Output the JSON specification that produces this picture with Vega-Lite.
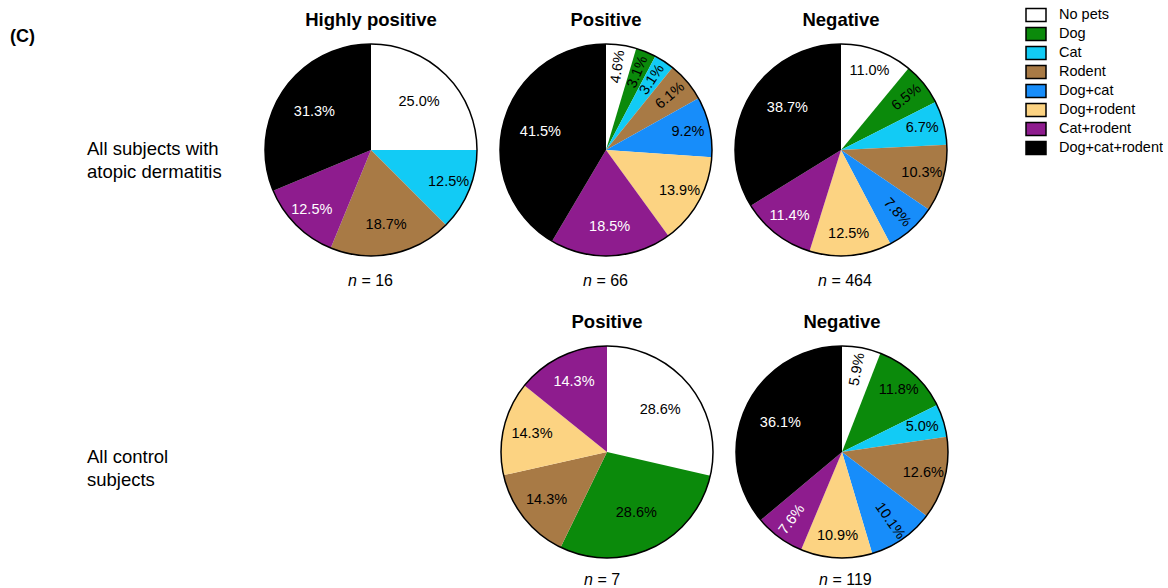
{
  "$schema": "https://vega.github.io/schema/vega-lite/v6.json",
  "padding": {"left": 0, "top": 6, "right": 0, "bottom": 0},
  "datasets": {
    "shares": [
      {"cohort": "AD", "result": "Highly positive", "pet": "No pets", "pct": 25.0},
      {"cohort": "AD", "result": "Highly positive", "pet": "Cat", "pct": 12.5},
      {"cohort": "AD", "result": "Highly positive", "pet": "Rodent", "pct": 18.7},
      {"cohort": "AD", "result": "Highly positive", "pet": "Cat+rodent", "pct": 12.5},
      {"cohort": "AD", "result": "Highly positive", "pet": "Dog+cat+rodent", "pct": 31.3},
      {"cohort": "AD", "result": "Positive", "pet": "No pets", "pct": 4.6},
      {"cohort": "AD", "result": "Positive", "pet": "Dog", "pct": 3.1},
      {"cohort": "AD", "result": "Positive", "pet": "Cat", "pct": 3.1},
      {"cohort": "AD", "result": "Positive", "pet": "Rodent", "pct": 6.1},
      {"cohort": "AD", "result": "Positive", "pet": "Dog+cat", "pct": 9.2},
      {"cohort": "AD", "result": "Positive", "pet": "Dog+rodent", "pct": 13.9},
      {"cohort": "AD", "result": "Positive", "pet": "Cat+rodent", "pct": 18.5},
      {"cohort": "AD", "result": "Positive", "pet": "Dog+cat+rodent", "pct": 41.5},
      {"cohort": "AD", "result": "Negative", "pet": "No pets", "pct": 11.0},
      {"cohort": "AD", "result": "Negative", "pet": "Dog", "pct": 6.5},
      {"cohort": "AD", "result": "Negative", "pet": "Cat", "pct": 6.7},
      {"cohort": "AD", "result": "Negative", "pet": "Rodent", "pct": 10.3},
      {"cohort": "AD", "result": "Negative", "pet": "Dog+cat", "pct": 7.8},
      {"cohort": "AD", "result": "Negative", "pet": "Dog+rodent", "pct": 12.5},
      {"cohort": "AD", "result": "Negative", "pet": "Cat+rodent", "pct": 11.4},
      {"cohort": "AD", "result": "Negative", "pet": "Dog+cat+rodent", "pct": 38.7},
      {"cohort": "Control", "result": "Positive", "pet": "No pets", "pct": 28.6},
      {"cohort": "Control", "result": "Positive", "pet": "Dog", "pct": 28.6},
      {"cohort": "Control", "result": "Positive", "pet": "Rodent", "pct": 14.3},
      {"cohort": "Control", "result": "Positive", "pet": "Dog+rodent", "pct": 14.3},
      {"cohort": "Control", "result": "Positive", "pet": "Cat+rodent", "pct": 14.3},
      {"cohort": "Control", "result": "Negative", "pet": "No pets", "pct": 5.9},
      {"cohort": "Control", "result": "Negative", "pet": "Dog", "pct": 11.8},
      {"cohort": "Control", "result": "Negative", "pet": "Cat", "pct": 5.0},
      {"cohort": "Control", "result": "Negative", "pet": "Rodent", "pct": 12.6},
      {"cohort": "Control", "result": "Negative", "pet": "Dog+cat", "pct": 10.1},
      {"cohort": "Control", "result": "Negative", "pet": "Dog+rodent", "pct": 10.9},
      {"cohort": "Control", "result": "Negative", "pet": "Cat+rodent", "pct": 7.6},
      {"cohort": "Control", "result": "Negative", "pet": "Dog+cat+rodent", "pct": 36.1}
    ],
    "counts": [
      {"cohort": "AD", "result": "Highly positive", "n": 16},
      {"cohort": "AD", "result": "Positive", "n": 66},
      {"cohort": "AD", "result": "Negative", "n": 464},
      {"cohort": "Control", "result": "Positive", "n": 7},
      {"cohort": "Control", "result": "Negative", "n": 119}
    ]
  },
  "spacing": 13,
  "vconcat": [
    {
      "spacing": 17,
      "hconcat": [
        {
          "width": 245, "height": 254,
          "data": {"values": [{}]},
          "layer": [
            {"mark": {"type": "text", "text": "(C)", "fontWeight": "bold", "fontSize": 18, "align": "left", "dx": -112.5, "dy": -133}, "encoding": {}},
            {"mark": {"type": "text", "text": ["All subjects with", "atopic dermatitis"], "fontSize": 18.5, "lineHeight": 23, "align": "left", "dx": -35.5, "dy": -21}, "encoding": {}}
          ]
        },
        {
          "spacing": 4,
          "vconcat": [
            {
              "width": 214, "height": 214,
              "title": "Highly positive",
              "data": {"name": "shares"},
              "transform": [
                {"filter": "datum.cohort === 'AD' && datum.result === 'Highly positive'"},
                {"calculate": "indexof(['No pets','Dog','Cat','Rodent','Dog+cat','Dog+rodent','Cat+rodent','Dog+cat+rodent'], datum.pet)", "as": "ord"},
                {"window": [{"op": "sum", "field": "pct", "as": "cum"}], "sort": [{"field": "ord", "order": "ascending"}]},
                {"calculate": "(datum.cum - datum.pct / 2) * 3.6 - 90", "as": "radial"},
                {"calculate": "datum.radial > 90 ? datum.radial - 180 : datum.radial", "as": "upright"},
                {"calculate": "datum.pct < 10.2 && abs(datum.upright) > 20 ? datum.upright : 0", "as": "tilt"},
                {"calculate": "format(datum.pct, '.1f') + '%'", "as": "label"}
              ],
              "layer": [
                {
                  "mark": {"type": "arc", "outerRadius": 106},
                  "encoding": {
                    "theta": {"field": "pct", "type": "quantitative", "stack": true, "scale": {"domain": [0, 100], "clamp": true}},
                    "order": {"field": "ord", "type": "quantitative"},
                    "color": {"field": "pet", "type": "nominal", "title": null, "scale": {"domain": ["No pets", "Dog", "Cat", "Rodent", "Dog+cat", "Dog+rodent", "Cat+rodent", "Dog+cat+rodent"], "range": ["#ffffff", "#0b8a0b", "#12cbf5", "#a87a45", "#178dfa", "#fcd382", "#8e1c8e", "#000000"]}}
                  }
                },
                {
                  "transform": [{"aggregate": [{"op": "sum", "field": "pct", "as": "whole"}]}],
                  "mark": {"type": "arc", "outerRadius": 106, "filled": false, "stroke": "black", "strokeWidth": 1.5},
                  "encoding": {"theta": {"field": "whole", "type": "quantitative", "scale": {"domain": [0, 100], "clamp": true}}}
                },
                {
                  "mark": {"type": "text", "fontSize": 14.5, "radius": {"expr": "datum.pct < 13.95 ? 84 : datum.pct < 20 ? 77 : 68"}},
                  "encoding": {
                    "theta": {"field": "pct", "type": "quantitative", "stack": true, "scale": {"domain": [0, 100], "clamp": true}},
                    "order": {"field": "ord", "type": "quantitative"},
                    "text": {"field": "label", "type": "nominal"},
                    "angle": {"field": "tilt", "type": "quantitative", "scale": null},
                    "color": {"condition": {"test": "datum.pet === 'Cat+rodent' || datum.pet === 'Dog+cat+rodent'", "value": "white"}, "value": "black"}
                  }
                }
              ]
            },
            {
              "width": 214, "height": 36,
              "data": {"name": "counts"},
              "transform": [
                {"filter": "datum.cohort === 'AD' && datum.result === 'Highly positive'"},
                {"calculate": "'= ' + datum.n", "as": "rest"}
              ],
              "layer": [
                {"mark": {"type": "text", "text": "n", "fontStyle": "italic", "fontSize": 16, "align": "left", "dx": -23}, "encoding": {}},
                {"mark": {"type": "text", "fontSize": 16, "align": "left", "dx": -9.6}, "encoding": {"text": {"field": "rest", "type": "nominal"}}}
              ]
            }
          ]
        },
        {
          "spacing": 4,
          "vconcat": [
            {
              "width": 214, "height": 214,
              "title": "Positive",
              "data": {"name": "shares"},
              "transform": [
                {"filter": "datum.cohort === 'AD' && datum.result === 'Positive'"},
                {"calculate": "indexof(['No pets','Dog','Cat','Rodent','Dog+cat','Dog+rodent','Cat+rodent','Dog+cat+rodent'], datum.pet)", "as": "ord"},
                {"window": [{"op": "sum", "field": "pct", "as": "cum"}], "sort": [{"field": "ord", "order": "ascending"}]},
                {"calculate": "(datum.cum - datum.pct / 2) * 3.6 - 90", "as": "radial"},
                {"calculate": "datum.radial > 90 ? datum.radial - 180 : datum.radial", "as": "upright"},
                {"calculate": "datum.pct < 10.2 && abs(datum.upright) > 20 ? datum.upright : 0", "as": "tilt"},
                {"calculate": "format(datum.pct, '.1f') + '%'", "as": "label"}
              ],
              "layer": [
                {
                  "mark": {"type": "arc", "outerRadius": 106},
                  "encoding": {
                    "theta": {"field": "pct", "type": "quantitative", "stack": true, "scale": {"domain": [0, 100], "clamp": true}},
                    "order": {"field": "ord", "type": "quantitative"},
                    "color": {"field": "pet", "type": "nominal", "title": null, "scale": {"domain": ["No pets", "Dog", "Cat", "Rodent", "Dog+cat", "Dog+rodent", "Cat+rodent", "Dog+cat+rodent"], "range": ["#ffffff", "#0b8a0b", "#12cbf5", "#a87a45", "#178dfa", "#fcd382", "#8e1c8e", "#000000"]}}
                  }
                },
                {
                  "transform": [{"aggregate": [{"op": "sum", "field": "pct", "as": "whole"}]}],
                  "mark": {"type": "arc", "outerRadius": 106, "filled": false, "stroke": "black", "strokeWidth": 1.5},
                  "encoding": {"theta": {"field": "whole", "type": "quantitative", "scale": {"domain": [0, 100], "clamp": true}}}
                },
                {
                  "mark": {"type": "text", "fontSize": 14.5, "radius": {"expr": "datum.pct < 13.95 ? 84 : datum.pct < 20 ? 77 : 68"}},
                  "encoding": {
                    "theta": {"field": "pct", "type": "quantitative", "stack": true, "scale": {"domain": [0, 100], "clamp": true}},
                    "order": {"field": "ord", "type": "quantitative"},
                    "text": {"field": "label", "type": "nominal"},
                    "angle": {"field": "tilt", "type": "quantitative", "scale": null},
                    "color": {"condition": {"test": "datum.pet === 'Cat+rodent' || datum.pet === 'Dog+cat+rodent'", "value": "white"}, "value": "black"}
                  }
                }
              ]
            },
            {
              "width": 214, "height": 36,
              "data": {"name": "counts"},
              "transform": [
                {"filter": "datum.cohort === 'AD' && datum.result === 'Positive'"},
                {"calculate": "'= ' + datum.n", "as": "rest"}
              ],
              "layer": [
                {"mark": {"type": "text", "text": "n", "fontStyle": "italic", "fontSize": 16, "align": "left", "dx": -23}, "encoding": {}},
                {"mark": {"type": "text", "fontSize": 16, "align": "left", "dx": -9.6}, "encoding": {"text": {"field": "rest", "type": "nominal"}}}
              ]
            }
          ]
        },
        {
          "spacing": 4,
          "vconcat": [
            {
              "width": 214, "height": 214,
              "title": "Negative",
              "data": {"name": "shares"},
              "transform": [
                {"filter": "datum.cohort === 'AD' && datum.result === 'Negative'"},
                {"calculate": "indexof(['No pets','Dog','Cat','Rodent','Dog+cat','Dog+rodent','Cat+rodent','Dog+cat+rodent'], datum.pet)", "as": "ord"},
                {"window": [{"op": "sum", "field": "pct", "as": "cum"}], "sort": [{"field": "ord", "order": "ascending"}]},
                {"calculate": "(datum.cum - datum.pct / 2) * 3.6 - 90", "as": "radial"},
                {"calculate": "datum.radial > 90 ? datum.radial - 180 : datum.radial", "as": "upright"},
                {"calculate": "datum.pct < 10.2 && abs(datum.upright) > 20 ? datum.upright : 0", "as": "tilt"},
                {"calculate": "format(datum.pct, '.1f') + '%'", "as": "label"}
              ],
              "layer": [
                {
                  "mark": {"type": "arc", "outerRadius": 106},
                  "encoding": {
                    "theta": {"field": "pct", "type": "quantitative", "stack": true, "scale": {"domain": [0, 100], "clamp": true}},
                    "order": {"field": "ord", "type": "quantitative"},
                    "color": {"field": "pet", "type": "nominal", "title": null, "scale": {"domain": ["No pets", "Dog", "Cat", "Rodent", "Dog+cat", "Dog+rodent", "Cat+rodent", "Dog+cat+rodent"], "range": ["#ffffff", "#0b8a0b", "#12cbf5", "#a87a45", "#178dfa", "#fcd382", "#8e1c8e", "#000000"]}}
                  }
                },
                {
                  "transform": [{"aggregate": [{"op": "sum", "field": "pct", "as": "whole"}]}],
                  "mark": {"type": "arc", "outerRadius": 106, "filled": false, "stroke": "black", "strokeWidth": 1.5},
                  "encoding": {"theta": {"field": "whole", "type": "quantitative", "scale": {"domain": [0, 100], "clamp": true}}}
                },
                {
                  "mark": {"type": "text", "fontSize": 14.5, "radius": {"expr": "datum.pct < 13.95 ? 84 : datum.pct < 20 ? 77 : 68"}},
                  "encoding": {
                    "theta": {"field": "pct", "type": "quantitative", "stack": true, "scale": {"domain": [0, 100], "clamp": true}},
                    "order": {"field": "ord", "type": "quantitative"},
                    "text": {"field": "label", "type": "nominal"},
                    "angle": {"field": "tilt", "type": "quantitative", "scale": null},
                    "color": {"condition": {"test": "datum.pet === 'Cat+rodent' || datum.pet === 'Dog+cat+rodent'", "value": "white"}, "value": "black"}
                  }
                }
              ]
            },
            {
              "width": 214, "height": 36,
              "data": {"name": "counts"},
              "transform": [
                {"filter": "datum.cohort === 'AD' && datum.result === 'Negative'"},
                {"calculate": "'= ' + datum.n", "as": "rest"}
              ],
              "layer": [
                {"mark": {"type": "text", "text": "n", "fontStyle": "italic", "fontSize": 16, "align": "left", "dx": -23}, "encoding": {}},
                {"mark": {"type": "text", "fontSize": 16, "align": "left", "dx": -9.6}, "encoding": {"text": {"field": "rest", "type": "nominal"}}}
              ]
            }
          ]
        }
      ]
    },
    {
      "spacing": 17,
      "hconcat": [
        {
          "width": 481, "height": 248,
          "data": {"values": [{}]},
          "layer": [
            {"mark": {"type": "text", "text": ["All control", "subjects"], "fontSize": 18.5, "lineHeight": 23, "align": "left", "dx": -153.5, "dy": -12}, "encoding": {}}
          ]
        },
        {
          "spacing": 4,
          "vconcat": [
            {
              "width": 214, "height": 214,
              "title": "Positive",
              "data": {"name": "shares"},
              "transform": [
                {"filter": "datum.cohort === 'Control' && datum.result === 'Positive'"},
                {"calculate": "indexof(['No pets','Dog','Cat','Rodent','Dog+cat','Dog+rodent','Cat+rodent','Dog+cat+rodent'], datum.pet)", "as": "ord"},
                {"window": [{"op": "sum", "field": "pct", "as": "cum"}], "sort": [{"field": "ord", "order": "ascending"}]},
                {"calculate": "(datum.cum - datum.pct / 2) * 3.6 - 90", "as": "radial"},
                {"calculate": "datum.radial > 90 ? datum.radial - 180 : datum.radial", "as": "upright"},
                {"calculate": "datum.pct < 10.2 && abs(datum.upright) > 20 ? datum.upright : 0", "as": "tilt"},
                {"calculate": "format(datum.pct, '.1f') + '%'", "as": "label"}
              ],
              "layer": [
                {
                  "mark": {"type": "arc", "outerRadius": 106},
                  "encoding": {
                    "theta": {"field": "pct", "type": "quantitative", "stack": true, "scale": {"domain": [0, 100], "clamp": true}},
                    "order": {"field": "ord", "type": "quantitative"},
                    "color": {"field": "pet", "type": "nominal", "title": null, "scale": {"domain": ["No pets", "Dog", "Cat", "Rodent", "Dog+cat", "Dog+rodent", "Cat+rodent", "Dog+cat+rodent"], "range": ["#ffffff", "#0b8a0b", "#12cbf5", "#a87a45", "#178dfa", "#fcd382", "#8e1c8e", "#000000"]}}
                  }
                },
                {
                  "transform": [{"aggregate": [{"op": "sum", "field": "pct", "as": "whole"}]}],
                  "mark": {"type": "arc", "outerRadius": 106, "filled": false, "stroke": "black", "strokeWidth": 1.5},
                  "encoding": {"theta": {"field": "whole", "type": "quantitative", "scale": {"domain": [0, 100], "clamp": true}}}
                },
                {
                  "mark": {"type": "text", "fontSize": 14.5, "radius": {"expr": "datum.pct < 13.95 ? 84 : datum.pct < 20 ? 77 : 68"}},
                  "encoding": {
                    "theta": {"field": "pct", "type": "quantitative", "stack": true, "scale": {"domain": [0, 100], "clamp": true}},
                    "order": {"field": "ord", "type": "quantitative"},
                    "text": {"field": "label", "type": "nominal"},
                    "angle": {"field": "tilt", "type": "quantitative", "scale": null},
                    "color": {"condition": {"test": "datum.pet === 'Cat+rodent' || datum.pet === 'Dog+cat+rodent'", "value": "white"}, "value": "black"}
                  }
                }
              ]
            },
            {
              "width": 214, "height": 30,
              "data": {"name": "counts"},
              "transform": [
                {"filter": "datum.cohort === 'Control' && datum.result === 'Positive'"},
                {"calculate": "'= ' + datum.n", "as": "rest"}
              ],
              "layer": [
                {"mark": {"type": "text", "text": "n", "fontStyle": "italic", "fontSize": 16, "align": "left", "dx": -23}, "encoding": {}},
                {"mark": {"type": "text", "fontSize": 16, "align": "left", "dx": -9.6}, "encoding": {"text": {"field": "rest", "type": "nominal"}}}
              ]
            }
          ]
        },
        {
          "spacing": 4,
          "vconcat": [
            {
              "width": 214, "height": 214,
              "title": "Negative",
              "data": {"name": "shares"},
              "transform": [
                {"filter": "datum.cohort === 'Control' && datum.result === 'Negative'"},
                {"calculate": "indexof(['No pets','Dog','Cat','Rodent','Dog+cat','Dog+rodent','Cat+rodent','Dog+cat+rodent'], datum.pet)", "as": "ord"},
                {"window": [{"op": "sum", "field": "pct", "as": "cum"}], "sort": [{"field": "ord", "order": "ascending"}]},
                {"calculate": "(datum.cum - datum.pct / 2) * 3.6 - 90", "as": "radial"},
                {"calculate": "datum.radial > 90 ? datum.radial - 180 : datum.radial", "as": "upright"},
                {"calculate": "datum.pct < 10.2 && abs(datum.upright) > 20 ? datum.upright : 0", "as": "tilt"},
                {"calculate": "format(datum.pct, '.1f') + '%'", "as": "label"}
              ],
              "layer": [
                {
                  "mark": {"type": "arc", "outerRadius": 106},
                  "encoding": {
                    "theta": {"field": "pct", "type": "quantitative", "stack": true, "scale": {"domain": [0, 100], "clamp": true}},
                    "order": {"field": "ord", "type": "quantitative"},
                    "color": {"field": "pet", "type": "nominal", "title": null, "scale": {"domain": ["No pets", "Dog", "Cat", "Rodent", "Dog+cat", "Dog+rodent", "Cat+rodent", "Dog+cat+rodent"], "range": ["#ffffff", "#0b8a0b", "#12cbf5", "#a87a45", "#178dfa", "#fcd382", "#8e1c8e", "#000000"]}}
                  }
                },
                {
                  "transform": [{"aggregate": [{"op": "sum", "field": "pct", "as": "whole"}]}],
                  "mark": {"type": "arc", "outerRadius": 106, "filled": false, "stroke": "black", "strokeWidth": 1.5},
                  "encoding": {"theta": {"field": "whole", "type": "quantitative", "scale": {"domain": [0, 100], "clamp": true}}}
                },
                {
                  "mark": {"type": "text", "fontSize": 14.5, "radius": {"expr": "datum.pct < 13.95 ? 84 : datum.pct < 20 ? 77 : 68"}},
                  "encoding": {
                    "theta": {"field": "pct", "type": "quantitative", "stack": true, "scale": {"domain": [0, 100], "clamp": true}},
                    "order": {"field": "ord", "type": "quantitative"},
                    "text": {"field": "label", "type": "nominal"},
                    "angle": {"field": "tilt", "type": "quantitative", "scale": null},
                    "color": {"condition": {"test": "datum.pet === 'Cat+rodent' || datum.pet === 'Dog+cat+rodent'", "value": "white"}, "value": "black"}
                  }
                }
              ]
            },
            {
              "width": 214, "height": 30,
              "data": {"name": "counts"},
              "transform": [
                {"filter": "datum.cohort === 'Control' && datum.result === 'Negative'"},
                {"calculate": "'= ' + datum.n", "as": "rest"}
              ],
              "layer": [
                {"mark": {"type": "text", "text": "n", "fontStyle": "italic", "fontSize": 16, "align": "left", "dx": -23}, "encoding": {}},
                {"mark": {"type": "text", "fontSize": 16, "align": "left", "dx": -9.6}, "encoding": {"text": {"field": "rest", "type": "nominal"}}}
              ]
            }
          ]
        }
      ]
    }
  ],
  "config": {
    "font": "Liberation Sans",
    "view": {"stroke": null},
    "text": {"color": "black"},
    "title": {"fontSize": 18.5, "fontWeight": "bold", "offset": 12, "color": "black", "anchor": "middle", "font": "Liberation Sans"},
    "legend": {
      "orient": "none",
      "legendX": 1027,
      "legendY": -37,
      "padding": 0,
      "symbolType": "M-1.25,-0.8H1.25V0.8H-1.25Z",
      "symbolSize": 256,
      "symbolStrokeColor": "black",
      "symbolStrokeWidth": 1.5,
      "symbolOpacity": 1,
      "labelFont": "Liberation Sans",
      "labelFontSize": 14.5,
      "labelColor": "black",
      "labelOffset": 14,
      "rowPadding": -1.9
    }
  }
}
